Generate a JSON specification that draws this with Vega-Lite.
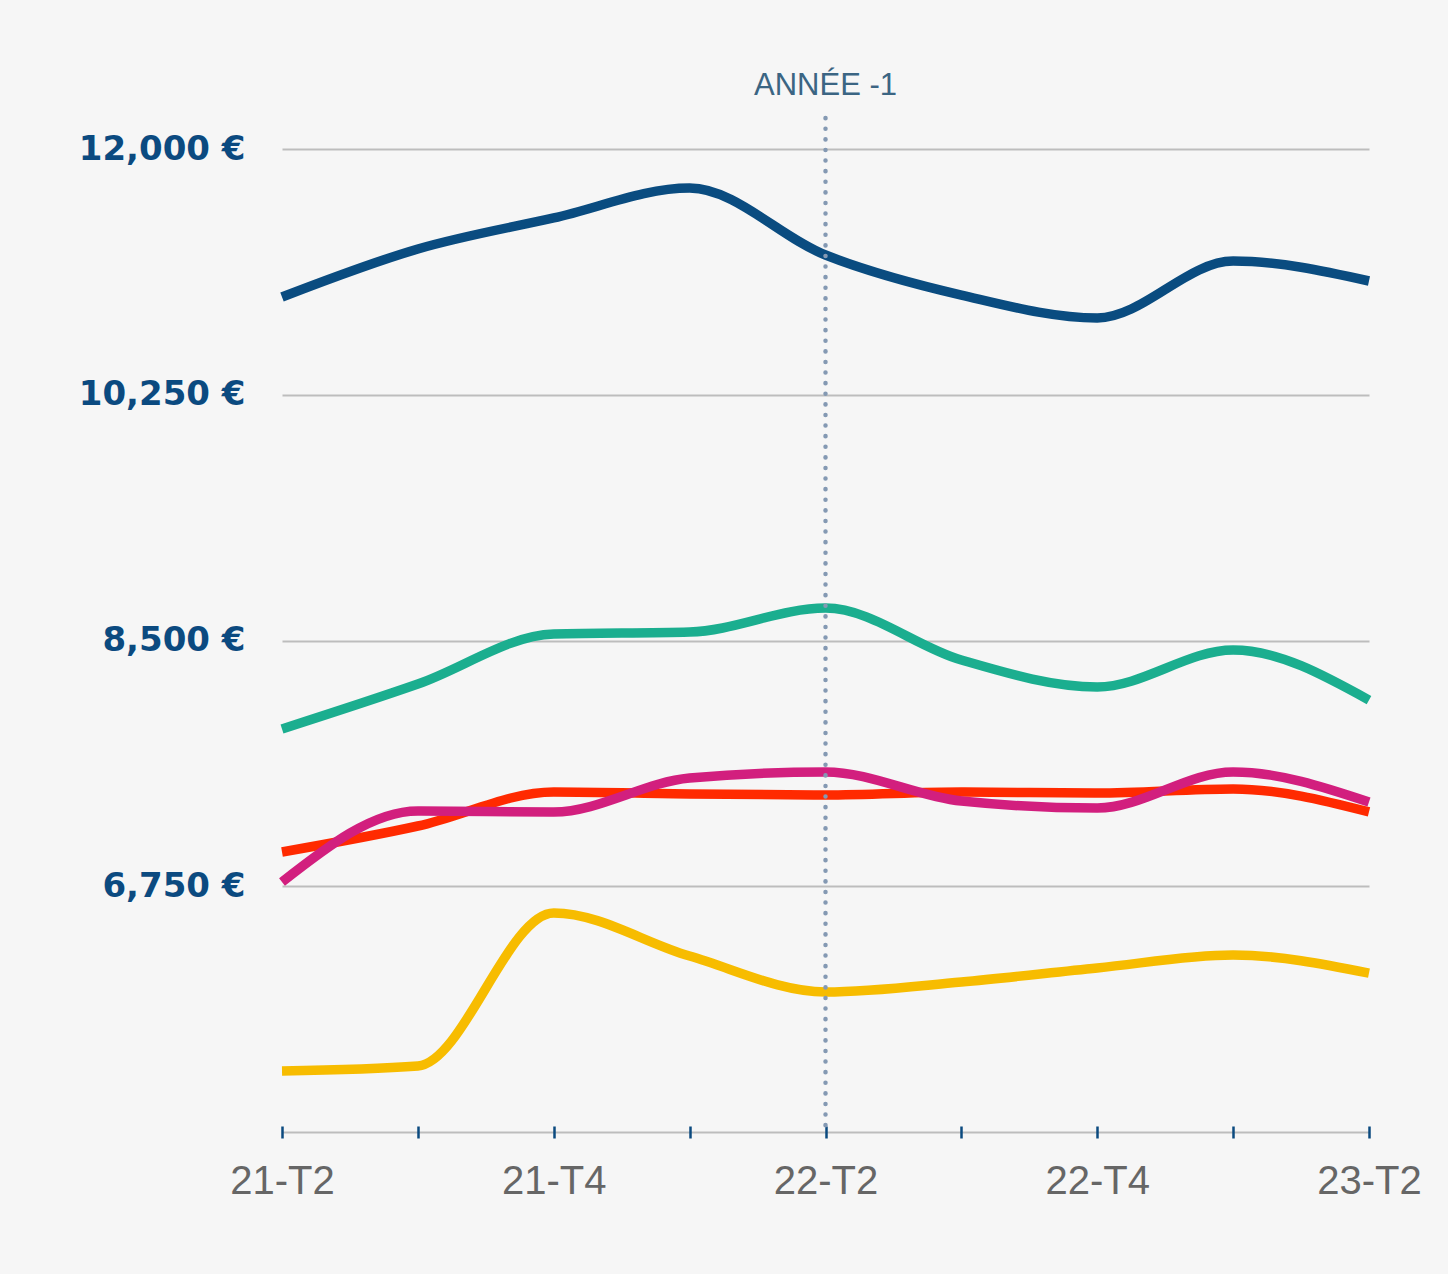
{
  "$schema": "https://vega.github.io/schema/vega-lite/v6.json",
  "width": 1087,
  "height": 983,
  "autosize": {"type": "none"},
  "padding": {"left": 282, "top": 149, "right": 79, "bottom": 142},
  "background": "#f6f6f6",
  "config": {"view": {"stroke": null}, "font": "Liberation Sans"},
  "datasets": {
    "series": [
      {"q": "21-T2", "serie": "A", "v": 10946}, {"q": "21-T3", "serie": "A", "v": 11288}, {"q": "21-T4", "serie": "A", "v": 11509},
      {"q": "22-T1", "serie": "A", "v": 11722}, {"q": "22-T2", "serie": "A", "v": 11245}, {"q": "22-T3", "serie": "A", "v": 10960},
      {"q": "22-T4", "serie": "A", "v": 10797}, {"q": "23-T1", "serie": "A", "v": 11202}, {"q": "23-T2", "serie": "A", "v": 11060},
      {"q": "21-T2", "serie": "B", "v": 7870}, {"q": "21-T3", "serie": "B", "v": 8190}, {"q": "21-T4", "serie": "B", "v": 8546},
      {"q": "22-T1", "serie": "B", "v": 8560}, {"q": "22-T2", "serie": "B", "v": 8731}, {"q": "22-T3", "serie": "B", "v": 8361},
      {"q": "22-T4", "serie": "B", "v": 8169}, {"q": "23-T1", "serie": "B", "v": 8432}, {"q": "23-T2", "serie": "B", "v": 8076},
      {"q": "21-T2", "serie": "C", "v": 6994}, {"q": "21-T3", "serie": "C", "v": 7179}, {"q": "21-T4", "serie": "C", "v": 7421},
      {"q": "22-T1", "serie": "C", "v": 7407}, {"q": "22-T2", "serie": "C", "v": 7400}, {"q": "22-T3", "serie": "C", "v": 7421},
      {"q": "22-T4", "serie": "C", "v": 7414}, {"q": "23-T1", "serie": "C", "v": 7443}, {"q": "23-T2", "serie": "C", "v": 7279},
      {"q": "21-T2", "serie": "D", "v": 6780}, {"q": "21-T3", "serie": "D", "v": 7286}, {"q": "21-T4", "serie": "D", "v": 7279},
      {"q": "22-T1", "serie": "D", "v": 7521}, {"q": "22-T2", "serie": "D", "v": 7564}, {"q": "22-T3", "serie": "D", "v": 7357},
      {"q": "22-T4", "serie": "D", "v": 7307}, {"q": "23-T1", "serie": "D", "v": 7564}, {"q": "23-T2", "serie": "D", "v": 7350},
      {"q": "21-T2", "serie": "E", "v": 5434}, {"q": "21-T3", "serie": "E", "v": 5470}, {"q": "21-T4", "serie": "E", "v": 6560},
      {"q": "22-T1", "serie": "E", "v": 6253}, {"q": "22-T2", "serie": "E", "v": 5997}, {"q": "22-T3", "serie": "E", "v": 6068},
      {"q": "22-T4", "serie": "E", "v": 6168}, {"q": "23-T1", "serie": "E", "v": 6260}, {"q": "23-T2", "serie": "E", "v": 6132}
    ]
  },
  "layer": [
    {
      "data": {"name": "series"},
      "mark": {"type": "line", "interpolate": "monotone", "strokeWidth": 9.5, "strokeCap": "butt"},
      "encoding": {
        "x": {
          "field": "q", "type": "ordinal",
          "scale": {"type": "point", "padding": 0, "domain": ["21-T2","21-T3","21-T4","22-T1","22-T2","22-T3","22-T4","23-T1","23-T2"]},
          "axis": {
            "title": null, "domain": false, "grid": false,
            "ticks": true, "tickSize": 12, "tickWidth": 2.5, "tickColor": "#0b4a7f", "offset": -6,
            "labelPadding": 23, "labelFontSize": 40, "labelColor": "#666666", "labelAngle": 0,
            "labelOverlap": false,
            "labelExpr": "indexof(['21-T2','21-T4','22-T2','22-T4','23-T2'], datum.value) >= 0 ? datum.value : ''"
          }
        },
        "y": {
          "field": "v", "type": "quantitative",
          "scale": {"domain": [5000, 12000], "nice": false, "zero": false},
          "axis": {
            "title": null, "domain": false, "ticks": false,
            "values": [5000, 6750, 8500, 10250, 12000],
            "grid": true, "gridColor": "#bdbdbd", "gridWidth": 2,
            "labelExpr": "datum.value == 5000 ? '' : format(datum.value, ',') + ' €'",
            "labelFont": "DejaVu Sans", "labelFontWeight": "bold", "labelFontSize": 34,
            "labelColor": "#0b4a80", "labelPadding": 37
          }
        },
        "color": {
          "field": "serie", "type": "nominal", "legend": null,
          "scale": {"domain": ["A","B","C","D","E"], "range": ["#0a4c80","#1bae8f","#ff2a00","#d21f7e","#f7bc00"]}
        }
      }
    },
    {
      "data": {"values": [{"label": "ANNÉE -1"}]},
      "layer": [
        {
          "mark": {"type": "rule", "strokeWidth": 4.5, "strokeDash": [0.1, 10.5], "strokeCap": "round", "color": "#8499b3"},
          "encoding": {
            "x": {"datum": "22-T2", "type": "ordinal"},
            "y": {"datum": 12220, "type": "quantitative"},
            "y2": {"datum": 5000}
          }
        },
        {
          "mark": {"type": "text", "fontSize": 31, "color": "#3b6583", "baseline": "middle", "align": "center"},
          "encoding": {
            "x": {"datum": "22-T2", "type": "ordinal"},
            "y": {"datum": 12450, "type": "quantitative"},
            "text": {"field": "label"}
          }
        }
      ]
    }
  ]
}
